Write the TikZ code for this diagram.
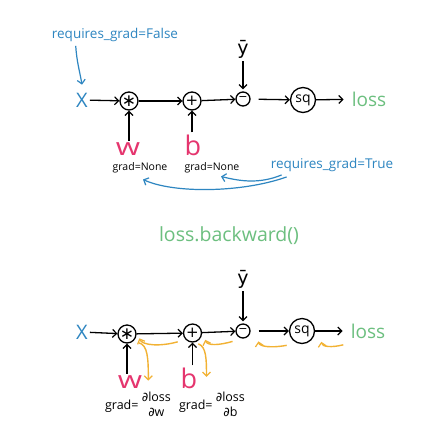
\documentclass[tikz,border=0pt]{standalone}
\usepackage{fontspec}
\setmainfont{Open Sans}
\newfontfamily\symf{DejaVu Sans}
\usetikzlibrary{arrows.meta,calc}
\definecolor{cblue}{HTML}{2E86C1}
\definecolor{cgreen}{HTML}{6CBF7F}
\definecolor{cred}{HTML}{E5356E}
\definecolor{corange}{HTML}{F2B233}
\begin{document}
\begin{tikzpicture}[x=1pt,y=-1pt,
  tip/.style={-{Straight Barb[length=4pt,width=8pt,line width=1.2pt]}},
  arr/.style={tip,line width=1.3pt,black},
  barr/.style={tip,line width=1.2pt,cblue},
  oarr/.style={tip,line width=1.4pt,corange},
  op/.style={circle,draw,line width=1.3pt,inner sep=0pt,minimum size=18pt},
  xlab/.style={text=cblue,font=\fontsize{20}{20}\selectfont,inner sep=2pt},
  losst/.style={text=cgreen,font=\fontsize{19}{19}\selectfont,inner sep=1pt},
  param/.style={text=cred,font=\fontsize{24}{24}\selectfont,inner sep=1pt,anchor=base},
  bparam/.style={text=cred,font=\fontsize{27}{27}\selectfont,inner sep=1pt,anchor=base},
  gradt/.style={font=\fontsize{10.5}{12}\selectfont,inner sep=1pt},
  bluet/.style={text=cblue,font=\fontsize{13.5}{15}\selectfont,inner sep=1pt},
  ylab/.style={font=\symf\fontsize{19}{19}\selectfont,inner sep=1pt},
  gradf/.style={font=\fontsize{12.5}{13}\selectfont,inner sep=1pt}
]
\useasboundingbox[fill=white] (0,0) rectangle (435,429);

% ---------- top diagram ----------
\node[bluet] (rf) at (115,35) {requires\_grad=False};
\node[xlab] (X1) at (82,100) {X};
\node[op] (m1) at (129,101) {\symf\fontsize{17}{17}\selectfont ∗};
\node[op] (p1) at (192,101) {\symf\fontsize{15}{15}\selectfont +};
\node[op,minimum size=14pt] (s1) at (243,99) {\symf\fontsize{11}{11}\selectfont −};
\node[op,minimum size=25pt] (q1) at (303,100) {\fontsize{14}{14}\selectfont sq};
\node[losst] (L1) at (369,99) {loss};
\node[ylab] (y1) at (243,49) {ȳ};
\node[param] (w1) at (128,155) {\scalebox{1.3}[1]{w}};
\node[bparam] (b1) at (193,155) {b};
\node[gradt] (g1) at (140,168) {grad=None};
\node[gradt] (g2) at (212,168) {grad=None};
\node[bluet] (rt) at (332,165) {requires\_grad=True};

\draw[arr] (X1) -- (m1);
\draw[arr] (m1) -- (p1);
\draw[arr] (p1) -- (s1);
\draw[arr,shorten <=8pt] (s1) -- (q1);
\draw[arr,shorten >=7pt] (q1) -- (L1);
\draw[arr,shorten <=2pt,shorten >=2pt] (y1) -- (s1);
\draw[arr] (w1.north -| m1.south) -- (m1.south);
\draw[arr,shorten <=1pt] (b1.north -| p1.south) -- (p1.south);

\draw[barr] ($(rf.south west)+(25,3)$) .. controls +(1,16) and +(-2,-12) .. ($(X1.north)+(0,-6)$);
\draw[barr] ($(rt.south west)+(17,4)$) .. controls +(-45,16) and +(30,14) .. ($(g1.south)+(3,5)$);
\draw[barr] ($(rt.south west)+(12,2)$) .. controls +(-22,9) and +(20,5) .. ($(g2.south)+(9,2)$);

% ---------- label ----------
\node[losst,font=\fontsize{19.5}{20}\selectfont] (bw) at (229,236) {loss.backward()};

% ---------- bottom diagram ----------
\node[xlab] (X2) at (82,332) {X};
\node[op] (m2) at (127,334) {\symf\fontsize{17}{17}\selectfont ∗};
\node[op] (p2) at (192.5,333) {\symf\fontsize{15}{15}\selectfont +};
\node[op,minimum size=14pt] (s2) at (243,331) {\symf\fontsize{11}{11}\selectfont −};
\node[op,minimum size=25pt] (q2) at (302,331) {\fontsize{14}{14}\selectfont sq};
\node[losst] (L2) at (368,331) {loss};
\node[ylab] (y2) at (243,279) {ȳ};
\node[param] (w2) at (130,388) {\scalebox{1.3}[1]{w}};
\node[bparam] (b2) at (189,388) {b};
\node[gradf] (gw) at (138,406) {grad= \begin{tabular}{@{}c@{}}{\symf ∂}loss\\[2pt]{\symf ∂}w\end{tabular}};
\node[gradf] (gb) at (212,406) {grad= \begin{tabular}{@{}c@{}}{\symf ∂}loss\\[2pt]{\symf ∂}b\end{tabular}};

\draw[arr] (X2) -- (m2);
\draw[arr] (m2) -- (p2);
\draw[arr] (p2) -- (s2);
\draw[arr,shorten <=8pt] (s2) -- (q2);
\draw[arr,shorten >=7pt] (q2) -- (L2);
\draw[arr,shorten <=2pt,shorten >=2pt] (y2) -- (s2);
\draw[arr] (w2.north -| m2.south) -- (m2.south);
\draw[arr,shorten <=1pt] (b2.north -| p2.south) -- (p2.south);

% backward (orange) arrows
\draw[oarr] ($(p2.south west)+(-8,2)$) .. controls +(-18,5) and +(3,7) .. ($(m2.south east)+(5.5,-2.5)$);
\draw[oarr] ($(s2.south west)+(-5,5)$) .. controls +(-14,4) and +(2,6) .. ($(p2.south east)+(6,0)$);
\draw[oarr] ($(q2.south west)+(-6,5)$) .. controls +(-16,3) and +(1,5) .. ($(s2.south east)+(10,5)$);
\draw[oarr] ($(q2.south east)+(32,4.5)$) .. controls +(-12,3) and +(1,5) .. ($(q2.south east)+(10,1.5)$);
\draw[oarr] ($(m2.south east)+(5,2)$) .. controls +(9,2) and +(0,-22) .. ($(w2.east)+(5,-1)$);
\draw[oarr] ($(p2.south east)+(-1,4)$) .. controls +(8,3) and +(0,-18) .. ($(b2.east)+(8,-1)$);
\end{tikzpicture}
\end{document}
